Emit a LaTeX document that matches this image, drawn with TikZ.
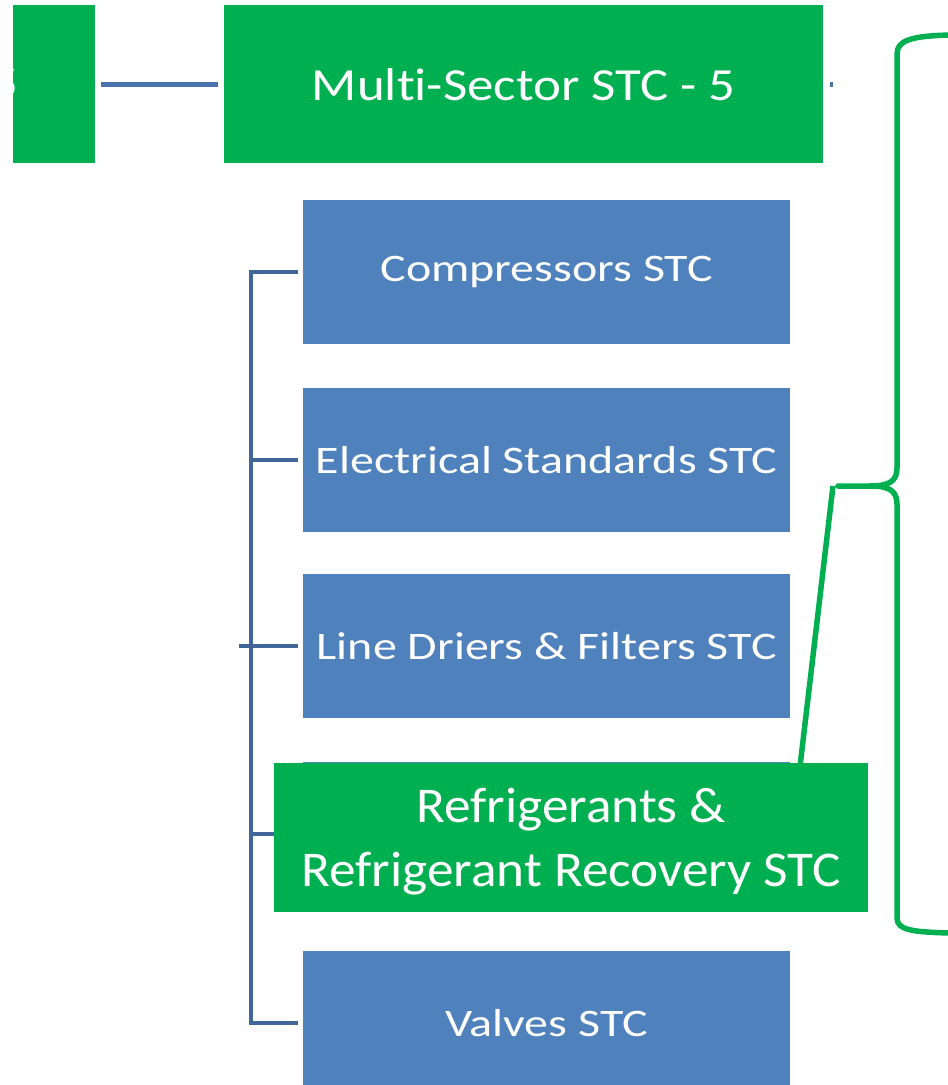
\documentclass[tikz,border=0pt]{standalone}
\usepackage{fontspec}
\setmainfont{Carlito}[Ligatures=NoCommon]
\definecolor{stcgreen}{HTML}{00B050}
\definecolor{stcblue}{HTML}{4F81BD}
\definecolor{treeblue}{HTML}{41679A}
\definecolor{linkblue}{HTML}{4A72AD}
\tikzset{
  greenbox/.style={fill=stcgreen, draw=none, anchor=north west, inner sep=0pt,
    text=white, align=center},
  bluebox/.style={fill=stcblue, draw=none, anchor=north west, inner sep=0pt,
    text=white, minimum width=487pt, minimum height=144pt,
    font=\fontsize{39}{46}\selectfont},
  tree/.style={draw=treeblue, line width=4pt},
  link/.style={draw=linkblue, line width=5pt},
  bracket/.style={draw=stcgreen, line width=5.5pt, line cap=round, line join=round},
}
\newcommand\wide[2]{\scalebox{#1}[1]{#2}}
\begin{document}
\begin{tikzpicture}[x=1pt, y=-1pt]
  \clip (0,0) rectangle (948,1085);
  \fill[white] (0,0) rectangle (948,1085);

  % sub-committee boxes
  \node[bluebox] (comp)   at (303,200) {\wide{1.23}{Compressors STC}};
  \node[bluebox] (elec)   at (303,388) {\wide{1.23}{Electrical Standards STC}};
  \node[bluebox] (driers) at (303,574) {\wide{1.23}{Line Driers \& Filters STC}};
  \node[bluebox] (refrigb) at (303,762) {};
  \node[bluebox] (valves) at (303,951) {\wide{1.23}{Valves STC}};

  % tree connector on the left
  \coordinate (spine) at (251,0);
  \draw[tree] ([xshift=-5pt]comp.west) -| (spine |- valves.west) -- ([xshift=-5pt]valves.west);
  \draw[tree] (spine |- elec.west) -- ([xshift=-5pt]elec.west);
  \draw[tree] ([xshift=-12pt]spine |- driers.west) -- ([xshift=-5pt]driers.west);
  \draw[tree] (spine |- refrigb.west) -- ([xshift=-5pt]refrigb.west);

  % top row
  \node[greenbox, minimum width=82pt, minimum height=158pt] (prev) at (13,5) {};
  \begin{scope}
    \clip (prev.north west) rectangle (prev.south east);
    \node[text=white, anchor=east, inner sep=0pt, font=\fontsize{46}{50}\selectfont]
      (prevlabel) at ([xshift=5.5pt]prev.west) {\wide{1.15}{5}};
  \end{scope}
  \node[greenbox, minimum width=599pt, minimum height=158pt,
        font=\fontsize{46}{50}\selectfont] (main) at (224,5)
        {\wide{1.15}{Multi-Sector STC - 5}};
  \draw[link] ([xshift=6pt]prev.east) -- ([xshift=-6pt]main.west);
  \draw[link] ([xshift=7pt]main.east) -- ([xshift=10pt]main.east);

  % highlighted committee
  \node[greenbox, minimum width=594pt, minimum height=149pt] (refrig) at (274,763) {};
  \node[text=white, align=center, inner sep=0pt, font=\fontsize{50}{64}\selectfont]
    (refriglabel) at ([yshift=-4pt]refrig.center)
    {\wide{1.065}{Refrigerants \&}\\\wide{1.065}{Refrigerant Recovery STC}};

  % curly bracket and its pointer
  \coordinate (tip) at (838,486);
  \draw[bracket] (950,35) .. controls (912,36) and (897,40) .. (897,54)
    -- (897,468) .. controls (897,482) and (888,486) .. (870,486) -- (tip);
  \draw[bracket] (870,486) .. controls (888,486) and (897,490) .. (897,504)
    -- (897,918) .. controls (897,930) and (912,932) .. (950,933);
  \draw[bracket, line cap=butt] ([xshift=-5pt]tip) -- ([xshift=-68pt]refrig.north east);
\end{tikzpicture}
\end{document}
